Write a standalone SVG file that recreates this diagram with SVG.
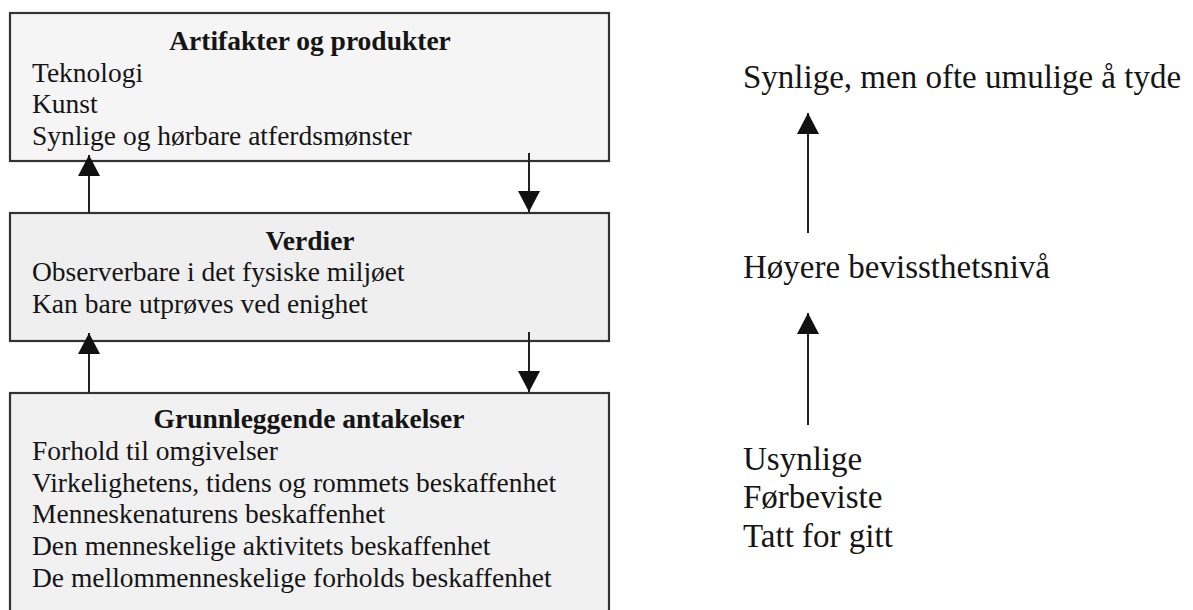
<svg xmlns="http://www.w3.org/2000/svg" width="1193" height="610" viewBox="0 0 1193 610">
  <style>
    .box { fill: #f2f2f2; stroke: #333; stroke-width: 2.2; }
    .t { font-family: "Liberation Serif", "Times New Roman", serif; font-size: 27.5px; fill: #151515; }
    .h { font-weight: bold; text-anchor: middle; }
    .r { font-family: "Liberation Serif", "Times New Roman", serif; font-size: 33px; fill: #151515; }
    .conn { stroke: #222; stroke-width: 2; fill: none; marker-end: url(#ah); }
  </style>
  <defs>
    <marker id="ah" markerUnits="userSpaceOnUse" markerWidth="22" markerHeight="22" viewBox="0 0 22 22" refX="21" refY="11" orient="auto">
      <path d="M0,0 L21,11 L0,22 Z" fill="#111"/>
    </marker>
  </defs>
  <rect width="1193" height="610" fill="#fff"/>

  <g id="artifakter">
    <rect class="box" x="10" y="13" width="599" height="148" style="fill:#f5f5f5"/>
    <text class="t h" x="310" y="50">Artifakter og produkter</text>
    <text class="t" x="32" y="82">Teknologi</text>
    <text class="t" x="32" y="113">Kunst</text>
    <text class="t" x="32" y="145">Synlige og hørbare atferdsmønster</text>
  </g>

  <g id="verdier">
    <rect class="box" x="10" y="213" width="599" height="128" style="fill:#efefef"/>
    <text class="t h" x="310" y="250">Verdier</text>
    <text class="t" x="32" y="281">Observerbare i det fysiske miljøet</text>
    <text class="t" x="32" y="313">Kan bare utprøves ved enighet</text>
  </g>

  <g id="antakelser">
    <rect class="box" x="10" y="393" width="599" height="225" style="fill:#f1f1f1"/>
    <text class="t h" x="309" y="428">Grunnleggende antakelser</text>
    <text class="t" x="32" y="460">Forhold til omgivelser</text>
    <text class="t" x="32" y="492">Virkelighetens, tidens og rommets beskaffenhet</text>
    <text class="t" x="32" y="523">Menneskenaturens beskaffenhet</text>
    <text class="t" x="32" y="555">Den menneskelige aktivitets beskaffenhet</text>
    <text class="t" x="32" y="587">De mellommenneskelige forholds beskaffenhet</text>
  </g>

  <g id="synlige">
    <text class="r" x="743" y="88">Synlige, men ofte umulige å tyde</text>
  </g>
  <g id="hoyere">
    <text class="r" x="743" y="278">Høyere bevissthetsnivå</text>
  </g>
  <g id="usynlige">
    <text class="r" x="743" y="470">Usynlige</text>
    <text class="r" x="743" y="508">Førbeviste</text>
    <text class="r" x="743" y="547">Tatt for gitt</text>
  </g>

  <g id="connectors">
    <line class="conn" x1="89" y1="213" x2="89" y2="155"/>
    <line class="conn" x1="529" y1="153" x2="529" y2="212"/>
    <line class="conn" x1="89" y1="393" x2="89" y2="333"/>
    <line class="conn" x1="529" y1="332" x2="529" y2="392"/>
    <line class="conn" x1="808" y1="233" x2="808" y2="113"/>
    <line class="conn" x1="808" y1="425" x2="808" y2="313"/>
  </g>
</svg>
